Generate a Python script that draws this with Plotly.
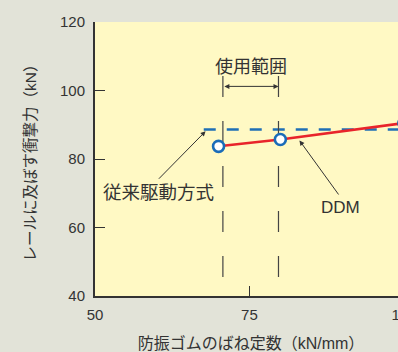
import plotly.graph_objects as go

# Data
ddm_x = [70, 80, 100]
ddm_y = [83.7, 85.7, 90.5]
conv_x = [67.6, 100.5]
conv_y = [88.6, 88.6]
range_x = [70.7, 79.7]          # 使用範囲 (usage range) bounds
x_ticks = [50, 75, 100]
y_ticks = [40, 60, 80, 100, 120]

FONT = "Liberation Sans, Noto Sans CJK JP, sans-serif"
TXT = "#333333"
BLUE = "#1f6fb5"
RED = "#e8242b"

fig = go.Figure()

# conventional drive (dashed blue)
fig.add_trace(go.Scatter(x=conv_x, y=conv_y, mode="lines",
                         line=dict(color=BLUE, width=2.6, dash="12px,11px"),
                         showlegend=False, hoverinfo="skip"))

# usage range vertical dashed lines
for xv in range_x:
    fig.add_trace(go.Scatter(x=[xv, xv], y=[104.2, 45.0], mode="lines",
                             line=dict(color="#444444", width=1.2, dash="21px,24px"),
                             showlegend=False, hoverinfo="skip"))

# DDM (red line with hollow markers)
fig.add_trace(go.Scatter(x=ddm_x, y=ddm_y, mode="lines+markers",
                         line=dict(color=RED, width=2.6),
                         marker=dict(size=11, color="white",
                                     line=dict(color="#1a6cb8", width=2.6)),
                         cliponaxis=False,
                         showlegend=False, hoverinfo="skip"))

annotations = [
    dict(x=sum(range_x) / 2, y=106.9, xref="x", yref="y", text="使用範囲",
         showarrow=False, font=dict(size=18, color=TXT, family=FONT)),
    dict(x=range_x[1], y=101.2, ax=range_x[0], ay=101.2, xref="x", yref="y",
         axref="x", ayref="y", text="", showarrow=True, arrowside="end+start",
         arrowhead=2, arrowsize=1, arrowwidth=1, arrowcolor="#333333"),
    dict(x=67.9, y=88.1, ax=60.1, ay=73.8, xref="x", yref="y", axref="x", ayref="y",
         text="", showarrow=True, arrowhead=2, arrowsize=1, arrowwidth=1,
         arrowcolor="#333333"),
    dict(x=60.3, y=70.3, xref="x", yref="y", text="従来駆動方式", showarrow=False,
         font=dict(size=18.5, color=TXT, family=FONT)),
    dict(x=83.1, y=85.4, ax=89.6, ay=69.2, xref="x", yref="y", axref="x", ayref="y",
         text="", showarrow=True, arrowhead=2, arrowsize=1, arrowwidth=1,
         arrowcolor="#333333"),
    dict(x=89.8, y=65.7, xref="x", yref="y", text="DDM", showarrow=False,
         font=dict(size=17, color=TXT, family=FONT)),
]

# The reference is a crop: the plot continues past the right edge of the window.
fig.update_layout(
    width=425, height=352, autosize=False,
    margin=dict(l=95, r=18, t=22, b=56),
    paper_bgcolor="#e2e3d8",
    plot_bgcolor="#fff9c4",
    font=dict(family=FONT, color=TXT, size=14),
    annotations=annotations,
)

fig.update_xaxes(range=[50, 100.5], tickvals=x_ticks, ticks="inside", ticklen=10,
                 tickwidth=1.2, tickcolor="#333333", showline=True, linecolor="#333333",
                 linewidth=2, showgrid=False, zeroline=False, automargin=False,
                 tickfont=dict(size=15, color=TXT), ticklabelstandoff=4,
                 title=dict(text="防振ゴムのばね定数（kN/mm）", font=dict(size=16, color=TXT),
                            standoff=18))
fig.update_yaxes(range=[40, 120], tickvals=y_ticks, ticks="inside", ticklen=10,
                 tickwidth=1.2, tickcolor="#333333", showline=True, linecolor="#333333",
                 linewidth=2, showgrid=False, zeroline=False, automargin=False,
                 tickfont=dict(size=15, color=TXT), ticklabelstandoff=5,
                 title=dict(text="レールに及ぼす衝撃力（kN）", font=dict(size=15.5, color=TXT),
                            standoff=20))

fig.write_html("out.html",
               config={"displayModeBar": False},
               post_script="document.body.style.margin='0';"
                           "document.body.style.overflow='hidden';")
